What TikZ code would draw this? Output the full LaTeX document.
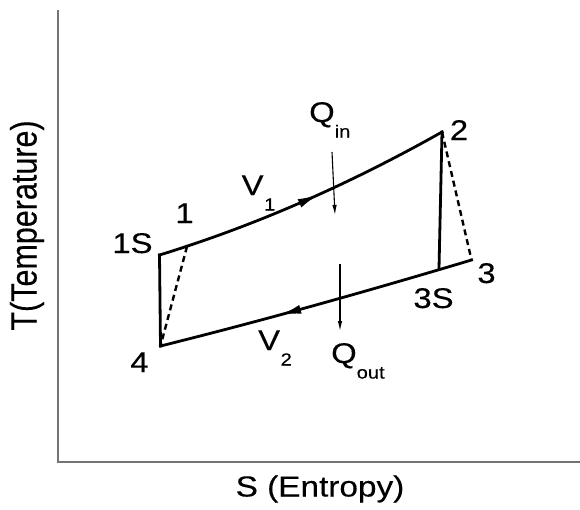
\documentclass[tikz,border=0pt]{standalone}
\usepackage{fontspec}
\setmainfont{Liberation Sans}[FakeBold=0.3]
\usetikzlibrary{arrows.meta}
\usetikzlibrary{decorations.markings}

\newcommand{\stretchtxt}[1]{\scalebox{1.15}[1]{#1}}
\newcommand{\lowsub}[1]{\raisebox{-15.5pt}{\fontsize{17.5}{18}\selectfont #1}}

\tikzset{
  lbl/.style={inner sep=0pt, anchor=base, font=\fontsize{28.5}{32}\selectfont},
  cycleline/.style={black, line width=2.8pt, line cap=rect},
  dashline/.style={black, line width=2.4pt, dash pattern=on 6pt off 4pt},
  axisline/.style={black!55, line width=1.6pt},
  heatarrow/.style={black, line width=1.1pt, -{Latex[length=10pt,width=4.5pt]}},
  flowmark/.style={postaction={decorate}, decoration={markings,
      mark=at position #1 with {\arrow{Latex[length=22pt,width=9pt]}}}},
}

\begin{document}
\begin{tikzpicture}[x=1pt, y=-1pt]
    \useasboundingbox (0,0) rectangle (580,509);
    % axes
    \coordinate (ytop) at (58,10);
    \coordinate (org) at (58,462);
    \coordinate (xend) at (580,462);
    \draw[axisline] (ytop) -- (org) -- (xend);
    \node[lbl, font=\fontsize{30.5}{34}\selectfont, rotate=90] (ylab) at (36.5,225.5) {\scalebox{1}[1.2]{T(Temperature)}};
    \node[lbl, font=\fontsize{29}{34}\selectfont] (xlab) at (320,496.5) {\stretchtxt{S (Entropy)}};
    % state points
    \coordinate (p1s) at (159.5,255);
    \coordinate (p1) at (187,246.5);
    \coordinate (p2) at (442,132);
    \coordinate (p3) at (471.5,260);
    \coordinate (p3s) at (439,268.5);
    \coordinate (p4) at (160.5,346);
    % cycle
    \draw[cycleline] (p4) -- (p1s);
    \draw[cycleline, flowmark=0.555] (p1s) .. controls (254,226) and (348,185) .. (p2);
    \draw[cycleline] (p2) -- (p3s);
    \draw[cycleline, flowmark=0.62] (p3) .. controls (368,291) and (265,320) .. (p4);
    \draw[dashline] (p1) -- (p4);
    \draw[dashline] (p2) -- (p3);
    % heat in and out
    \coordinate (qin-a) at (332,152);
    \coordinate (qin-b) at (335,215);
    \coordinate (qout-a) at (340,264);
    \coordinate (qout-b) at (340,331);
    \draw[heatarrow] (qin-a) -- (qin-b);
    \draw[heatarrow] (qout-a) -- (qout-b);
    % labels
    \node[lbl] (l1s) at (132.5,253) {\stretchtxt{1S}};
    \node[lbl] (l1) at (184.5,223) {\stretchtxt{1}};
    \node[lbl] (l2) at (459,140) {\stretchtxt{2}};
    \node[lbl] (l3) at (486.5,283) {\stretchtxt{3}};
    \node[lbl] (l3s) at (433.5,308) {\stretchtxt{3S}};
    \node[lbl] (l4) at (139.5,372) {\stretchtxt{4}};
    \node[lbl, anchor=base west] (lv1) at (241.5,195) {\stretchtxt{V\hspace{0.5pt}\lowsub{1}}};
    \node[lbl, anchor=base west] (lv2) at (258,350) {\stretchtxt{V\hspace{0.5pt}\lowsub{2}}};
    \node[lbl, anchor=base west] (lqin) at (309,122) {\stretchtxt{Q\lowsub{in}}};
    \node[lbl, anchor=base west] (lqout) at (331,363) {\stretchtxt{Q\lowsub{out}}};
\end{tikzpicture}
\end{document}
